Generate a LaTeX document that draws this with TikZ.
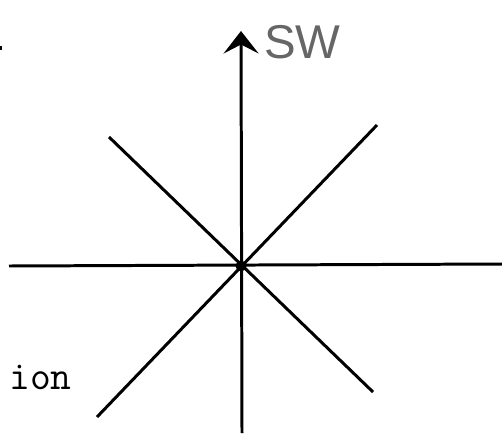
\documentclass[tikz,border=0pt]{standalone}
\usepackage{fontspec}
\newfontfamily\handfont{Liberation Sans}
\usetikzlibrary{arrows.meta}

\begin{document}
\begin{tikzpicture}[x=0.02cm, y=-0.02cm, >={Stealth[length=4.5mm, width=7mm, inset=1.8mm]}, line width=1.7pt]
  \useasboundingbox (0,0) rectangle (502,439);
  % centro y extremos de las rectas
  \coordinate (O) at (241,266);
  \coordinate (N) at (241,31);
  \coordinate (S) at (242,433);
  \coordinate (W) at (9,266);
  \coordinate (E) at (502,264);
  \coordinate (NW) at (109,137);
  \coordinate (SE) at (373,392);
  \coordinate (NE) at (377,125);
  \coordinate (SW) at (97,417);
  \draw[->] (S) -- (N);
  \draw (W) -- (E);
  \draw (NW) -- (SE);
  \draw (SW) -- (NE);
  \fill (O) circle (5.5);
  \fill (0,46) rectangle (2,50);
  \node[anchor=west, text=black!60, font=\handfont\fontsize{27}{27}\selectfont] (lab) at (257,42) {SW};
  \node[anchor=west, font=\ttfamily\fontsize{23}{23}\selectfont] (ion) at (2,377) {ion};
\end{tikzpicture}
\end{document}
